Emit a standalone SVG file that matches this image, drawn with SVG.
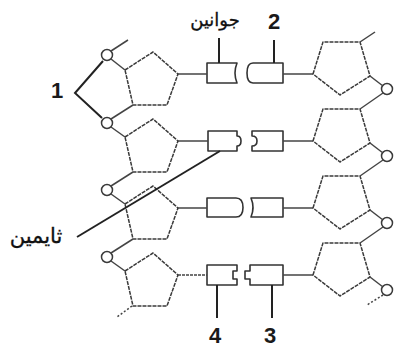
<svg xmlns="http://www.w3.org/2000/svg" width="395" height="351" viewBox="0 0 395 351">
  <style>
    .bb { fill: none; stroke: #3a3a3a; stroke-width: 1.5; stroke-dasharray: 4 1; stroke-linejoin: round; }
    .ph { fill: #fff; stroke: #3a3a3a; stroke-width: 1.5; }
    .base { fill: #fff; stroke: #333; stroke-width: 1.6; stroke-linejoin: round; }
    .link { fill: none; stroke: #444; stroke-width: 1.5; }
    .lead { fill: none; stroke: #222; stroke-width: 2; }
    .num { font-family: "Liberation Sans", Arial, sans-serif; font-weight: bold; font-size: 22px; fill: #1a1a1a; text-anchor: middle; }
    .ar { font-family: "DejaVu Sans", sans-serif; fill: #111; stroke: #111; stroke-width: 0.3; text-anchor: middle; }
  </style>
  <rect width="395" height="351" fill="#fff"/>

  <!-- left strand: sugars (point up) and phosphates -->
  <g id="sugar-left-1"><path class="bb" d="M125,70 L153,52 L178,74 L167,105 L133,105 Z"/></g>
  <g id="sugar-left-2"><path class="bb" d="M125,137 L153,119 L178,141 L167,172 L133,172 Z"/></g>
  <g id="sugar-left-3"><path class="bb" d="M125,204 L153,186 L178,208 L167,239 L133,239 Z"/></g>
  <g id="sugar-left-4"><path class="bb" d="M125,271 L153,253 L178,275 L167,306 L133,306 Z"/></g>
  <g id="phos-left-1"><circle class="ph" cx="107" cy="55" r="5.5"/></g>
  <g id="phos-left-2"><circle class="ph" cx="107" cy="123" r="5.5"/></g>
  <g id="phos-left-3"><circle class="ph" cx="107" cy="190" r="5.5"/></g>
  <g id="phos-left-4"><circle class="ph" cx="107" cy="257" r="5.5"/></g>

  <!-- right strand: sugars (point down) and phosphates -->
  <g id="sugar-right-1"><path class="bb" d="M313,74 L323,42 L360,42 L370,76 L340,95 Z"/></g>
  <g id="sugar-right-2"><path class="bb" d="M313,141 L323,109 L360,109 L370,143 L340,162 Z"/></g>
  <g id="sugar-right-3"><path class="bb" d="M313,208 L323,176 L360,176 L370,210 L340,229 Z"/></g>
  <g id="sugar-right-4"><path class="bb" d="M313,275 L323,243 L360,243 L370,277 L340,296 Z"/></g>
  <g id="phos-right-1"><circle class="ph" cx="387" cy="89" r="5.5"/></g>
  <g id="phos-right-2"><circle class="ph" cx="387" cy="156" r="5.5"/></g>
  <g id="phos-right-3"><circle class="ph" cx="387" cy="223" r="5.5"/></g>
  <g id="phos-right-4"><circle class="ph" cx="387" cy="290" r="5.5"/></g>

  <!-- bases -->
  <g id="base-1-left"><path class="base" d="M207,63 H237 Q233,73 237,83 H207 Z"/></g>
  <g id="base-1-right"><path class="base" d="M283,63 H253 Q247,63 247,73 Q247,83 253,83 H283 Z"/></g>
  <g id="base-2-left"><path class="base" d="M208,131 H237 V136 Q241,136 241,141 Q241,146 237,146 V151 H208 Z"/></g>
  <g id="base-2-right"><path class="base" d="M283,131 H252 V136 Q257,136 257,141 Q257,146 252,146 V151 H283 Z"/></g>
  <g id="base-3-left"><path class="base" d="M207,198 H236 Q243,198 243,207.5 Q243,217 236,217 H207 Z"/></g>
  <g id="base-3-right"><path class="base" d="M283,198 H251 Q255,207.5 251,217 H283 Z"/></g>
  <g id="base-4-left"><path class="base" d="M207,265 H237 V271 H233 V279 H237 V285 H207 Z"/></g>
  <g id="base-4-right"><path class="base" d="M283,265 H250 V271 H245 V279 H250 V285 H283 Z"/></g>

  <!-- connectors: backbone links and sugar-base bonds -->
  <g id="connectors">
    <path class="link" d="M111,51 L128,40"/>
    <path class="link" d="M111,59 L125,70"/>
    <path class="link" d="M133,105 L111,119"/>
    <path class="link" d="M111,127 L125,137"/>
    <path class="link" d="M133,172 L111,186"/>
    <path class="link" d="M111,194 L125,204"/>
    <path class="link" d="M133,239 L111,253"/>
    <path class="link" d="M111,261 L125,271"/>
    <path class="link" stroke-dasharray="2 2" d="M132,306 L117,317"/>

    <path class="link" d="M360,42 L375,32"/>
    <path class="link" d="M370,76 L383,86"/>
    <path class="link" d="M383,93 L360,109"/>
    <path class="link" d="M370,143 L383,153"/>
    <path class="link" d="M383,160 L360,176"/>
    <path class="link" d="M370,210 L383,220"/>
    <path class="link" d="M383,227 L360,243"/>
    <path class="link" d="M370,277 L383,287"/>
    <path class="link" stroke-dasharray="2 2" d="M383,295 L367,305"/>

    <path class="link" d="M178,74 H207"/>
    <path class="link" d="M283,74 H313"/>
    <path class="link" d="M178,141 H208"/>
    <path class="link" d="M283,141 H313"/>
    <path class="link" d="M178,208 H207"/>
    <path class="link" d="M283,208 H313"/>
    <path class="link" stroke-dasharray="3 1" d="M178,275 H207"/>
    <path class="link" d="M283,275 H313"/>

    <!-- label leaders -->
    <path class="lead" d="M103,61 L75,93 L102,118"/>
    <path class="lead" d="M219,38 V63"/>
    <path class="lead" d="M274,40 V63"/>
    <path class="lead" d="M77,237 L220,151"/>
    <path class="lead" d="M217,285 V318"/>
    <path class="lead" d="M272,285 V318"/>
  </g>

  <!-- labels -->
  <g id="label-1"><text class="num" x="57" y="98">1</text></g>
  <g id="label-2"><text class="num" x="274" y="29">2</text></g>
  <g id="label-3"><text class="num" x="270" y="343">3</text></g>
  <g id="label-4"><text class="num" x="215" y="343">4</text></g>
  <g id="label-guanine"><text class="ar" x="215" y="26" font-size="18">جوانين</text></g>
  <g id="label-thymine"><text class="ar" x="36" y="243" font-size="21">ثايمين</text></g>
</svg>
